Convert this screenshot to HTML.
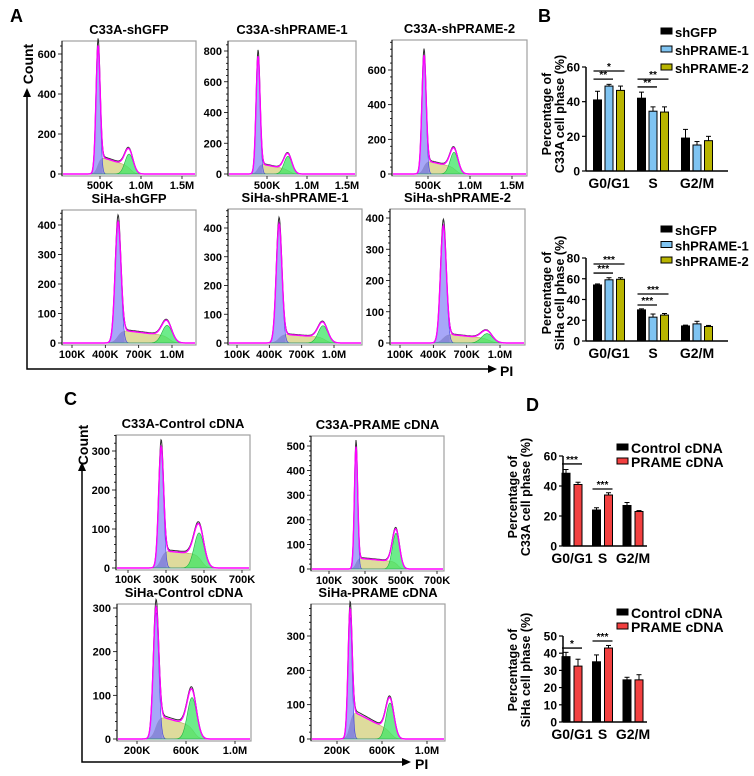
<!DOCTYPE html>
<html><head><meta charset="utf-8">
<style>
body{margin:0;background:#fff;}
svg{display:block;font-family:"Liberation Sans",Arial,sans-serif;font-weight:bold;}
</style></head>
<body>
<svg id="fig" width="754" height="776" viewBox="0 0 754 776" xmlns="http://www.w3.org/2000/svg">
<g font-size="18">
<text x="10" y="22">A</text>
<text x="538" y="22">B</text>
<text x="64" y="405">C</text>
<text x="526" y="411">D</text>
</g>
<g stroke="#000" stroke-width="1.5" fill="none">
<path d="M27,96 L27,369 L490,369"/>
<path d="M82,470 L82,762 L404,762"/>
</g>
<g fill="#000">
<path d="M27,88 L23,97 L31,97Z"/>
<path d="M497,369 L488,365 L488,373Z"/>
<path d="M82,462 L78,471 L86,471Z"/>
<path d="M411,762 L402,758 L402,766Z"/>
</g>
<g font-size="14">
<text transform="translate(33,64) rotate(-90)" text-anchor="middle">Count</text>
<text x="500" y="376">PI</text>
<text transform="translate(88,445) rotate(-90)" text-anchor="middle">Count</text>
<text x="415" y="769">PI</text>
</g>
<g id="hists"></g>
<g id="bars"></g>
</svg>
<script>
// ---------- Histogram data (DNA content in K units, counts) ----------
const histTitles = ["C33A-shGFP","C33A-shPRAME-1","C33A-shPRAME-2","SiHa-shGFP","SiHa-shPRAME-1","SiHa-shPRAME-2","C33A-Control cDNA","C33A-PRAME cDNA","SiHa-Control cDNA","SiHa-PRAME cDNA"];
const histG1Pos = [476, 388, 452, 514, 490, 490, 274, 250, 355, 316];
const histG1Height = [630, 770, 680, 410, 420, 380, 305, 500, 290, 355];
const histG1Sd = [25, 25, 25, 26, 26, 26, 13, 9, 22, 18];
const histG2Pos = [854, 762, 810, 955, 898, 883, 474, 472, 649, 671];
const histG2Height = [100, 115, 125, 60, 60, 30, 90, 145, 95, 105];
const histG2Sd = [50, 50, 48, 45, 45, 50, 26, 20, 38, 36];
const histSStart = [90, 70, 80, 45, 32, 30, 45, 45, 55, 85];
const histSEnd = [40, 30, 40, 25, 20, 15, 35, 30, 30, 25];
const histYTicks = [[0,200,400,600],[0,200,400,600,800],[0,200,400,600],[0,100,200,300,400],[0,100,200,300,400],[0,100,200,300,400],[0,100,200,300],[0,100,200,300,400,500],[0,100,200,300],[0,100,200,300]];
const histXTickLabels = [["500K","1.0M","1.5M"],["500K","1.0M","1.5M"],["500K","1.0M","1.5M"],["100K","400K","700K","1.0M"],["100K","400K","700K","1.0M"],["100K","400K","700K","1.0M"],["100K","300K","500K","700K"],["100K","300K","500K","700K"],["200K","600K","1.0M"],["200K","600K","1.0M"]];
const histXTickValues = [[500,1000,1500],[500,1000,1500],[500,1000,1500],[100,400,700,1000],[100,400,700,1000],[100,400,700,1000],[100,300,500,700],[100,300,500,700],[200,600,1000],[200,600,1000]];
const histLayout = [
 {L:62,R:196,T:41,Z:174,yv:600,yp:54,xa:500,xpa:100,xb:1500,xpb:182},
 {L:228,R:356,T:41,Z:174,yv:800,yp:51,xa:500,xpa:267,xb:1500,xpb:347},
 {L:392,R:527,T:40,Z:174,yv:600,yp:70,xa:500,xpa:428,xb:1500,xpb:512},
 {L:62,R:196,T:210,Z:343,yv:400,yp:225,xa:100,xpa:72,xb:1000,xpb:172},
 {L:228,R:362,T:209,Z:343,yv:400,yp:228,xa:100,xpa:237,xb:1000,xpb:334},
 {L:390,R:525,T:209,Z:343,yv:400,yp:218,xa:100,xpa:400,xb:1000,xpb:500},
 {L:116,R:250,T:435,Z:568,yv:300,yp:451,xa:100,xpa:128,xb:700,xpb:242},
 {L:311,R:444,T:436,Z:569,yv:500,yp:446,xa:100,xpa:329,xb:700,xpb:437},
 {L:117,R:251,T:604,Z:739,yv:300,yp:608,xa:200,xpa:137,xb:1000,xpb:235},
 {L:311,R:445,T:604,Z:739,yv:300,yp:636,xa:200,xpa:337,xb:1000,xpb:427}
];
const NS='http://www.w3.org/2000/svg';
function mk(tag,attrs,parent){const e=document.createElementNS(NS,tag);for(const k in attrs)e.setAttribute(k,attrs[k]);if(parent)parent.appendChild(e);return e;}
const hg=document.getElementById('hists');
function gauss(x,m,s){return Math.exp(-0.5*((x-m)/s)*((x-m)/s));}
function sig(x){return 1/(1+Math.exp(-x));}
for(let i=0;i<histTitles.length;i++){
 const Ly=histLayout[i];
 const g=mk('g',{},hg);
 
 
 const xs=v=>Ly.xpa+(v-Ly.xa)*(Ly.xpb-Ly.xpa)/(Ly.xb-Ly.xa);
 const xinv=p=>Ly.xa+(p-Ly.xpa)*(Ly.xb-Ly.xa)/(Ly.xpb-Ly.xpa);
 const ys=v=>Ly.Z-v*(Ly.Z-Ly.yp)/Ly.yv;
 const t=mk('text',{x:(Ly.L+Ly.R)/2,y:Ly.T-7,'text-anchor':'middle','font-size':'13'},g);
 t.textContent=histTitles[i];
 
 
 const fr=mk('rect',{x:Ly.L,y:Ly.T,width:Ly.R-Ly.L,height:Ly.Z+2-Ly.T,fill:'none',stroke:'#a0a0a0','stroke-width':'1.2'},g);
 
 
 const m1=histG1Pos[i],s1=histG1Sd[i],h1=histG1Height[i],m2=histG2Pos[i],s2=histG2Sd[i],h2=histG2Height[i];
 const S=x=>{const f=Math.min(1,Math.max(0,(x-m1)/(m2-m1)));return (histSStart[i]+(histSEnd[i]-histSStart[i])*f)*sig((x-m1)/(s1*0.8))*sig((m2+s2*0.5-x)/(s2*0.5));};
 const G1=x=>h1*gauss(x,m1,s1), G2=x=>h2*gauss(x,m2,s2);
 let pS='',pGray='',pG1='',pG2='',pSum='',pBlk='';
 let grayEnd=xs(m1+2.2*s1);
 for(let p=Ly.L+1;p<=Ly.R-1;p+=0.5){
  const x=xinv(p);
  const sv=S(x),g1=G1(x),g2=G2(x);
  pS+=(pS?'L':'M')+p.toFixed(1)+','+ys(sv).toFixed(1);
  if(p<=grayEnd)pGray+=(pGray?'L':'M')+p.toFixed(1)+','+ys(sv).toFixed(1);
  pG1+=(pG1?'L':'M')+p.toFixed(1)+','+ys(g1).toFixed(1);
  pG2+=(pG2?'L':'M')+p.toFixed(1)+','+ys(g2).toFixed(1);
  pSum+=(pSum?'L':'M')+p.toFixed(1)+','+ys(sv+g1*0.95+g2*0.97).toFixed(1);
  pBlk+=(pBlk?'L':'M')+p.toFixed(1)+','+ys(sv*1.08+g1+g2).toFixed(1);
 }
 const close=`L${Ly.R-1},${Ly.Z}L${Ly.L+1},${Ly.Z}Z`;
 const a1=mk('path',{d:pS+close,fill:'#dedb9c',stroke:'#b8b060','stroke-width':'0.6'},g);
 
 
 const a0=mk('path',{d:pGray+`L${grayEnd},${Ly.Z}L${Ly.L+1},${Ly.Z}Z`,fill:'#a8a8a8'},g);
 
 
 const a2=mk('path',{d:pG1+close,fill:'rgba(120,120,245,0.65)',stroke:'#4040e0','stroke-width':'0.6'},g);
 
 
 const a3=mk('path',{d:pG2+close,fill:'rgba(60,230,100,0.75)',stroke:'#20b040','stroke-width':'0.6'},g);
 
 
 const l1=mk('path',{d:pBlk,fill:'none',stroke:'#333','stroke-width':'1'},g);
 
 
 const l2=mk('path',{d:pSum,fill:'none',stroke:'#ff00ff','stroke-width':'1.4'},g);
 
 
 const ax=mk('line',{x1:Ly.L,y1:Ly.T,x2:Ly.L,y2:Ly.Z+2,stroke:'#000','stroke-width':'1'},g);
 
 
 const yt=histYTicks[i];
 const step=yt[1]-yt[0];
 for(let v=0;ys(v)>=Ly.T;v+=step/5){
  mk('line',{x1:Ly.L-(Math.abs(v/step-Math.round(v/step))<1e-6?4:2),y1:ys(v),x2:Ly.L,y2:ys(v),stroke:'#000','stroke-width':'0.8'},g);
 }
 yt.forEach(v=>{
  const tt=mk('text',{x:Ly.L-6,y:ys(v)+4,'text-anchor':'end','font-size':'11'},g);
  tt.textContent=v;
  
  
 });
 histXTickValues[i].forEach((v,k)=>{
  mk('line',{x1:xs(v),y1:Ly.Z+2,x2:xs(v),y2:Ly.Z+5,stroke:'#000','stroke-width':'0.8'},g);
  const tt=mk('text',{x:xs(v),y:Ly.Z+15,'text-anchor':'middle','font-size':'11'},g);
  tt.textContent=histXTickLabels[i][k];
  
  
 });
}

// ---------- Bar chart data ----------
const barCategories = ["G0/G1","S","G2/M"];
const bTopSeries = ["shGFP","shPRAME-1","shPRAME-2"];
const bTopValues = [[41,42,19],[49,34.5,15],[46.5,34,17.5]];
const bTopErrors = [[5,3.5,5],[1,2.5,2],[2.5,3,2.5]];
const bBotValues = [[54,30,14.5],[59,23,16.5],[59.5,25,14]];
const bBotErrors = [[1,1,0.8],[2,3,2.5],[1.5,1.5,1]];
const dSeries = ["Control cDNA","PRAME cDNA"];
const dTopValues = [[48.5,24,27],[41,34,23]];
const dTopErrors = [[2.5,1.5,2],[1.5,1.5,0.6]];
const dBotValues = [[38,35,24.5],[32.5,43,24.5]];
const dBotErrors = [[2.5,4,1.5],[4,1.5,3]];
const bTopSig = [[0,0,1,53,"**"],[0,0,2,57.7,"*"],[1,0,1,48.5,"**"],[1,0,2,53,"**"]];
const bBotSig = [[0,0,1,65.5,"***"],[0,0,2,74.2,"***"],[1,0,1,34.7,"***"],[1,0,2,45.3,"***"]];
const dTopSig = [[0,0,1,54.7,"***"],[1,0,1,38,"***"]];
const dBotSig = [[0,0,1,43,"*"],[1,0,1,47.1,"***"]];
const bTicks = [0,20,40,60];
const bBotTicks = [0,20,40,60,80];
const dTicks = [0,20,40,60];
const dBotTicks = [0,10,20,30,40,50];

const bg=document.getElementById('bars');
function barChart(o){
 const g=mk('g',{},bg);
 
 
 const ys=v=>o.y0-v*(o.y0-o.yRefPx)/o.yRefVal;
 const n=o.values.length;
 const bx=(gi,si)=>o.ax+o.gOff+gi*o.gStep+(si-(n-1)/2)*o.sStep;
 o.values.forEach((ser,si)=>{
  ser.forEach((v,gi)=>{
   const cx=bx(gi,si), e=o.errors[si][gi];
   const el=mk('line',{x1:cx,y1:ys(v),x2:cx,y2:ys(v+e),stroke:'#000','stroke-width':'1'},g);
   
   
   mk('line',{x1:cx-2.5,y1:ys(v+e),x2:cx+2.5,y2:ys(v+e),stroke:'#000','stroke-width':'1'},g);
   const r=mk('rect',{x:cx-o.bw/2,y:ys(v),width:o.bw,height:o.y0-ys(v),fill:o.colors[si],stroke:'#000','stroke-width':'1'},g);
   
   
  });
 });
 const ya=mk('line',{x1:o.ax,y1:ys(o.ticks[o.ticks.length-1]),x2:o.ax,y2:o.y0,stroke:'#000','stroke-width':'1.5'},g);
 
 
 const xa=mk('line',{x1:o.ax,y1:o.y0,x2:o.xEnd,y2:o.y0,stroke:'#000','stroke-width':'1.5'},g);
 
 
 o.ticks.forEach(v=>{
  mk('line',{x1:o.ax-4,y1:ys(v),x2:o.ax,y2:ys(v),stroke:'#000','stroke-width':'1.2'},g);
  const t=mk('text',{x:o.ax-6,y:ys(v)+4.5,'text-anchor':'end','font-size':'12'},g);
  t.textContent=v;
  
  
 });
 barCategories.forEach((c,gi)=>{
  const t=mk('text',{x:o.ax+o.gOff+gi*o.gStep,y:o.y0+17,'text-anchor':'middle','font-size':'14'},g);
  t.textContent=c;
  
  
 });
 const yt=mk('text',{transform:`translate(${o.titleX},${o.titleY}) rotate(-90)`,'text-anchor':'middle','font-size':'12.5'},g);
 yt.textContent='Percentage of';
 
 
 const yt2=mk('text',{transform:`translate(${o.titleX+13},${o.titleY}) rotate(-90)`,'text-anchor':'middle','font-size':'12.5'},g);
 yt2.textContent=o.cell+' cell phase (%)';
 
 
 o.sig.forEach(s=>{
  const x1=bx(s[0],s[1])-o.bw/2, x2=bx(s[0],s[2])+o.bw/2, y=ys(s[3]);
  const l=mk('line',{x1:x1,y1:y,x2:x2,y2:y,stroke:'#000','stroke-width':'1.3'},g);
  
  
  const t=mk('text',{x:(x1+x2)/2,y:y-1,'text-anchor':'middle','font-size':'10'},g);
  t.textContent=s[4];
  
  
 });
 o.series.forEach((s,si)=>{
  const r=mk('rect',{x:o.legX,y:o.legY+si*o.legStep-4,width:11,height:6,fill:o.colors[si],stroke:'#000','stroke-width':'1'},g);
  
  
  const t=mk('text',{x:o.legX+14,y:o.legY+si*o.legStep+5,'font-size':o.legFont},g);
  t.textContent=s;
  
  
 });
}
const cB=['#000','#7fc4f2','#b8b400'];
const cD=['#000','#f24040'];
barChart({name:'chart-b-c33a',series:bTopSeries,values:bTopValues,errors:bTopErrors,sig:bTopSig,ticks:bTicks,colors:cB,ax:586,xEnd:728,y0:171,yRefVal:60,yRefPx:67,gOff:23,gStep:44,sStep:11.5,bw:8,titleX:551,titleY:114,cell:'C33A',legX:661,legY:32,legStep:18,legFont:'13'});
barChart({name:'chart-b-siha',series:bTopSeries,values:bBotValues,errors:bBotErrors,sig:bBotSig,ticks:bBotTicks,colors:cB,ax:586,xEnd:728,y0:341,yRefVal:80,yRefPx:258,gOff:23,gStep:44,sStep:11.5,bw:8,titleX:551,titleY:293,cell:'SiHa',legX:661,legY:230,legStep:15.5,legFont:'13'});
barChart({name:'chart-d-c33a',series:dSeries,values:dTopValues,errors:dTopErrors,sig:dTopSig,ticks:dTicks,colors:cD,ax:563,xEnd:647,y0:546,yRefVal:60,yRefPx:456,gOff:9,gStep:30.5,sStep:12,bw:8,titleX:517,titleY:497,cell:'C33A',legX:617,legY:448,legStep:14,legFont:'14'});
barChart({name:'chart-d-siha',series:dSeries,values:dBotValues,errors:dBotErrors,sig:dBotSig,ticks:dBotTicks,colors:cD,ax:563,xEnd:647,y0:722,yRefVal:50,yRefPx:636,gOff:9,gStep:30.5,sStep:12,bw:8,titleX:517,titleY:670,cell:'SiHa',legX:617,legY:613,legStep:14,legFont:'14'});
</script>
</body></html>
